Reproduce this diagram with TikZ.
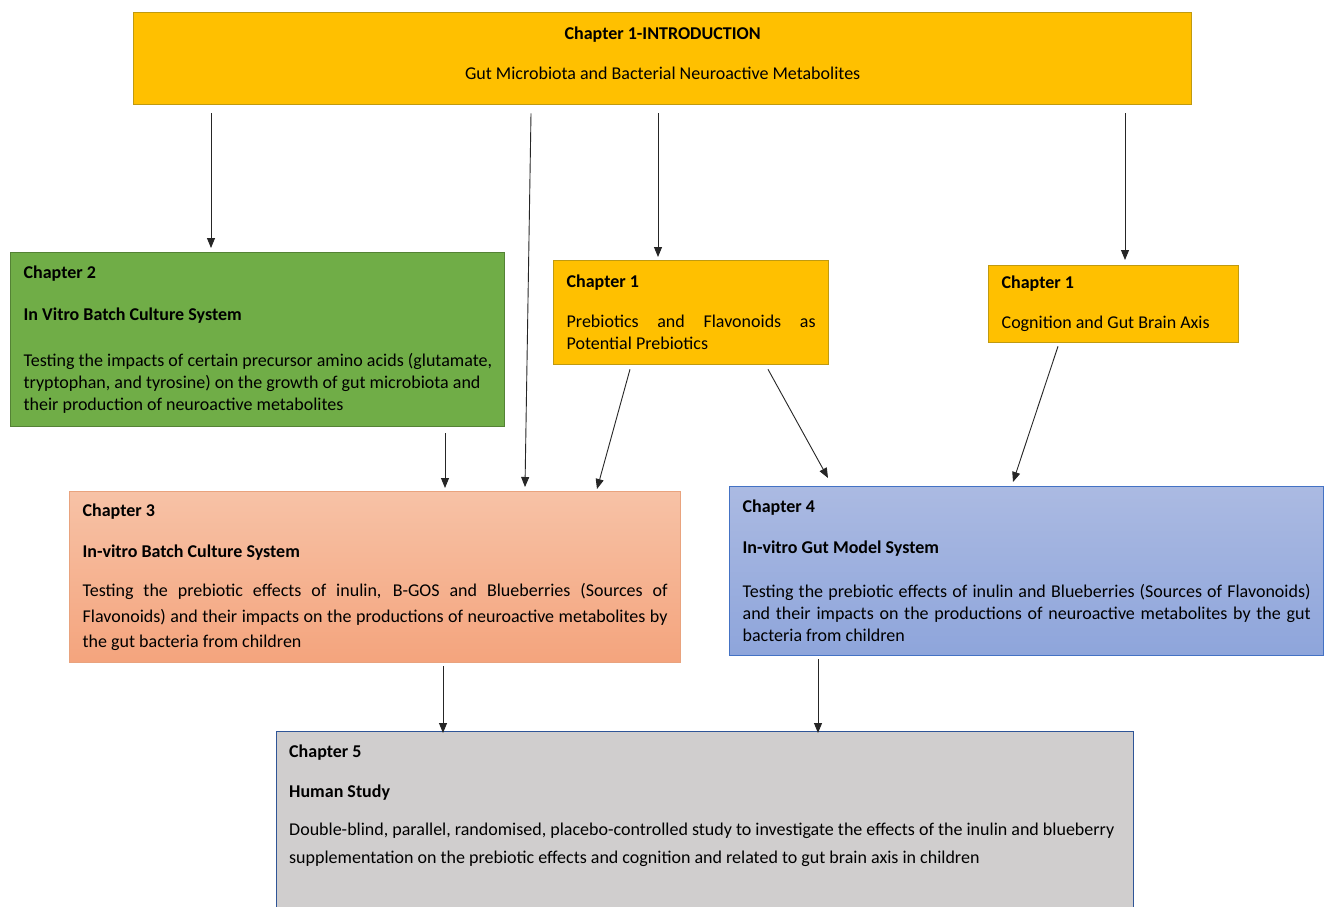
\documentclass[tikz,border=0pt]{standalone}
\usepackage{fontspec}
\setmainfont{Carlito}
\usetikzlibrary{arrows.meta}
\definecolor{gold}{HTML}{FFC000}
\definecolor{goldline}{HTML}{C09A10}
\definecolor{leaf}{HTML}{70AD47}
\definecolor{leafline}{HTML}{548235}
\definecolor{peachtop}{HTML}{F7C2A6}
\definecolor{peachbot}{HTML}{F4A47D}
\definecolor{peachline}{HTML}{E9A37E}
\definecolor{bluetop}{HTML}{ABBAE2}
\definecolor{bluebot}{HTML}{8EA5DB}
\definecolor{blueline}{HTML}{4472C4}
\definecolor{stone}{HTML}{D0CECE}
\definecolor{stoneline}{HTML}{2F5597}
\begin{document}
\begin{tikzpicture}[x=1pt,y=-1pt]
\tikzstyle{every node}+=[font=\fontsize{18pt}{22pt}\selectfont]
\tikzstyle{box}=[draw, line width=1.3pt, anchor=north west, inner xsep=13pt, inner ysep=0pt]
\tikzstyle{goldbox}=[box, fill=gold, draw=goldline]
\tikzstyle{greenbox}=[box, fill=leaf, draw=leafline]
\tikzstyle{peachbox}=[box, top color=peachtop, bottom color=peachbot, draw=peachline]
\tikzstyle{bluebox}=[box, top color=bluetop, bottom color=bluebot, draw=blueline]
\tikzstyle{greybox}=[box, fill=stone, draw=stoneline]
\tikzstyle{arr}=[-{Triangle[length=10pt,width=8pt]}, line width=0.9pt, black!85]
\useasboundingbox (0,0) rectangle (1330,907);
\fill [white] (0,0) rectangle (1330,907);
\node [goldbox, minimum width=1058pt, minimum height=92pt, align=center] (intro) at (133,12) {\textbf{Chapter 1-INTRODUCTION}\\[18pt]Gut Microbiota and Bacterial Neuroactive Metabolites\\[-12pt]\mbox{}};
\node [greenbox, minimum width=494pt, minimum height=174pt, text width=468pt, align=flush left] (ch2) at (10,252) {\textbf{Chapter 2}\\[20pt]\textbf{In Vitro Batch Culture System}\\[24pt]\mbox{Testing the impacts of certain precursor amino acids (glutamate,}\\\mbox{tryptophan, and tyrosine) on the growth of gut microbiota and}\\\mbox{their production of neuroactive metabolites}};
\node [goldbox, minimum width=275pt, minimum height=104pt, text width=249pt, align=justify] (pre) at (553,260) {\textbf{Chapter 1}\\[18pt]Prebiotics and Flavonoids as\linebreak Potential Prebiotics};
\node [goldbox, minimum width=250pt, minimum height=77pt, text width=224pt, align=flush left] (cog) at (988,265) {\textbf{Chapter 1}\\[18pt]Cognition and Gut Brain Axis};
\node [peachbox, minimum width=611pt, minimum height=171pt, text width=585pt, align=justify, font=\fontsize{18pt}{25.5pt}\selectfont] (ch3) at (69,491) {\textbf{Chapter 3}\\[15.5pt]\textbf{In-vitro Batch Culture System}\\[14pt]Testing the prebiotic effects of inulin, B-GOS and Blueberries (Sources of\linebreak Flavonoids) and their impacts on the productions of neuroactive metabolites by\linebreak the gut bacteria from children};
\node [bluebox, minimum width=594pt, minimum height=169pt, text width=568pt, align=justify] (ch4) at (729,486) {\textbf{Chapter 4}\\[19pt]\textbf{In-vitro Gut Model System}\\[22pt]Testing the prebiotic effects of inulin and Blueberries (Sources of Flavonoids)\linebreak and their impacts on the productions of neuroactive metabolites by the gut\linebreak bacteria from children};
\node [greybox, minimum width=857pt, minimum height=190pt] (ch5) at (276,731) {};
\node [anchor=north west, inner sep=0pt, text width=831pt, align=flush left] (ch5txt) at ([xshift=13pt,yshift=-14pt]ch5.north west) {\textbf{Chapter 5}\\[18pt]\textbf{Human Study}\\[16pt]\mbox{Double-blind, parallel, randomised, placebo-controlled study to investigate the effects of the inulin and blueberry}\\[6pt]\mbox{supplementation on the prebiotic effects and cognition and related to gut brain axis in children}};
\draw [arr] ([xshift=78pt,yshift=-8pt]intro.south west) -- ([xshift=201pt,yshift=4pt]ch2.north west);
\draw [arr] ([xshift=398pt,yshift=-8pt]intro.south west) -- ([xshift=456pt,yshift=4pt]ch3.north west);
\draw [arr] ([xshift=525pt,yshift=-8pt]intro.south west) -- ([xshift=105pt,yshift=3pt]pre.north west);
\draw [arr] ([xshift=992pt,yshift=-8pt]intro.south west) -- ([xshift=137pt,yshift=5pt]cog.north west);
\draw [arr] ([xshift=435pt,yshift=-6pt]ch2.south west) -- ([xshift=376pt,yshift=3pt]ch3.north west);
\draw [arr] ([xshift=77pt,yshift=-4pt]pre.south west) -- ([xshift=528pt,yshift=2pt]ch3.north west);
\draw [arr] ([xshift=215pt,yshift=-4pt]pre.south west) -- ([xshift=99pt,yshift=8pt]ch4.north west);
\draw [arr] ([xshift=70pt,yshift=-3pt]cog.south west) -- ([xshift=284pt,yshift=4pt]ch4.north west);
\draw [arr] ([xshift=374pt,yshift=-3pt]ch3.south west) -- ([xshift=167pt,yshift=-2pt]ch5.north west);
\draw [arr] ([xshift=89pt,yshift=-3pt]ch4.south west) -- ([xshift=542pt,yshift=-2pt]ch5.north west);
\end{tikzpicture}
\end{document}
